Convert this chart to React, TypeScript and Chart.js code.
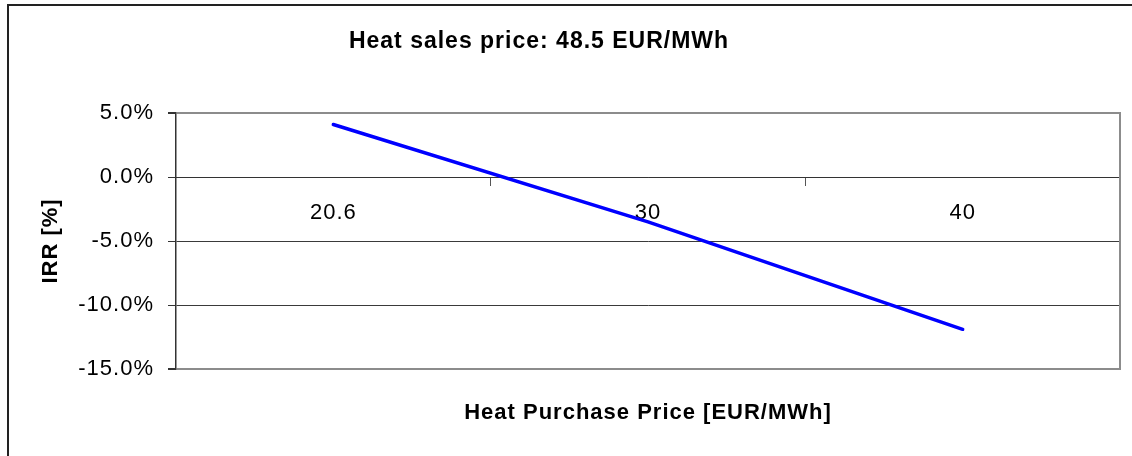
import React, { useEffect, useRef } from 'react';
import { Chart, registerables } from 'chart.js';

Chart.register(...registerables);

const chartTitle = 'Heat sales price: 48.5 EUR/MWh';
const xAxisTitle = 'Heat Purchase Price [EUR/MWh]';
const yAxisTitle = 'IRR [%]';
const categories = ['20.6', '30', '40'];
const irrPercent = [4.1, -3.5, -11.9];
const yMin = -15;
const yMax = 5;
const yStep = 5;

const FONT = '"Liberation Sans", Arial, sans-serif';
const GRID_DARK = '#3a3a3a';
const FRAME_GRAY = '#8c8c8c';

export default function App() {
  const ref = useRef<HTMLCanvasElement>(null);

  useEffect(() => {
    const canvas = ref.current!;
    const spacing = {
      id: 'letterSpacing',
      beforeUpdate(c: any) { c.ctx.letterSpacing = '1px'; },
      beforeDraw(c: any) { c.ctx.letterSpacing = '1px'; },
    };
    const isEdge = (c: any) => c.tick && (c.tick.value === yMax || c.tick.value === yMin);
    const chart = new Chart(canvas, {
      type: 'line',
      data: {
        labels: categories,
        datasets: [
          {
            data: irrPercent,
            borderColor: '#0000ff',
            borderWidth: 3.5,
            pointRadius: 0,
            pointHoverRadius: 0,
            tension: 0,
            borderCapStyle: 'round',
            borderJoinStyle: 'round',
            fill: false,
          },
        ],
      },
      options: {
        animation: false,
        responsive: false,
        events: [],
        layout: { padding: 0 },
        plugins: {
          legend: { display: false },
          tooltip: { enabled: false },
          title: {
            display: true,
            text: chartTitle,
            color: '#000',
            font: { family: FONT, size: 23, weight: 'bold', lineHeight: 1.2 },
            padding: { top: 28, bottom: 57.4 },
          },
        },
        scales: {
          x: {
            type: 'category',
            position: { y: 0 },
            offset: true,
            grid: {
              display: true,
              offset: true,
              drawOnChartArea: false,
              drawTicks: true,
              tickLength: 8,
              tickColor: '#555',
              tickWidth: 1,
            },
            border: { display: true, color: '#333', width: 1 },
            ticks: {
              color: '#000',
              font: { family: FONT, size: 22 },
              padding: 15,
              maxRotation: 0,
              autoSkip: false,
            },
            afterFit: (s: any) => { s.height = 0; },
          },
          x2: {
            type: 'category',
            position: 'bottom',
            labels: categories,
            offset: true,
            grid: { display: false },
            border: { display: false },
            ticks: { display: false },
            title: {
              display: true,
              text: xAxisTitle,
              color: '#000',
              font: { family: FONT, size: 22, weight: 'bold', lineHeight: 1.2 },
              padding: { top: 0, bottom: 30 },
            },
            afterFit: (s: any) => { s.height = 87; },
          },
          y: {
            position: 'left',
            min: yMin,
            max: yMax,
            ticks: {
              stepSize: yStep,
              color: '#000',
              font: { family: FONT, size: 22 },
              padding: 14,
              callback: (v: any) => Number(v).toFixed(1) + '%',
            },
            grid: {
              color: (c: any) => (isEdge(c) ? FRAME_GRAY : GRID_DARK),
              lineWidth: (c: any) => (isEdge(c) ? 2 : 1),
              tickColor: '#333',
              tickLength: 8,
            },
            border: { display: true, color: '#333', width: 1.5 },
            title: {
              display: true,
              text: yAxisTitle,
              color: '#000',
              font: { family: FONT, size: 22, weight: 'bold', lineHeight: 1.2 },
              padding: { top: 92, bottom: 0 },
            },
            afterFit: (s: any) => { s.width = 230; },
          },
          y2: {
            position: 'right',
            display: true,
            grid: { display: false },
            ticks: { display: false },
            border: { display: true, color: FRAME_GRAY, width: 2 },
            afterFit: (s: any) => { s.width = 12; },
          },
        },
      } as any,
      plugins: [spacing],
    });
    return () => chart.destroy();
  }, []);

  return (
    <div
      style={{
        position: 'fixed',
        left: 0,
        top: 0,
        width: 1132,
        height: 456,
        overflow: 'hidden',
        background: '#fff',
      }}
    >
      <div
        style={{
          position: 'absolute',
          left: 7,
          top: 4,
          width: 2000,
          height: 1000,
          borderTop: '2px solid #222',
          borderLeft: '2px solid #222',
        }}
      />
      <canvas
        ref={ref}
        width={1186}
        height={456}
        style={{ position: 'absolute', left: -54, top: 0, width: 1186, height: 456, display: 'block' }}
      />
    </div>
  );
}
